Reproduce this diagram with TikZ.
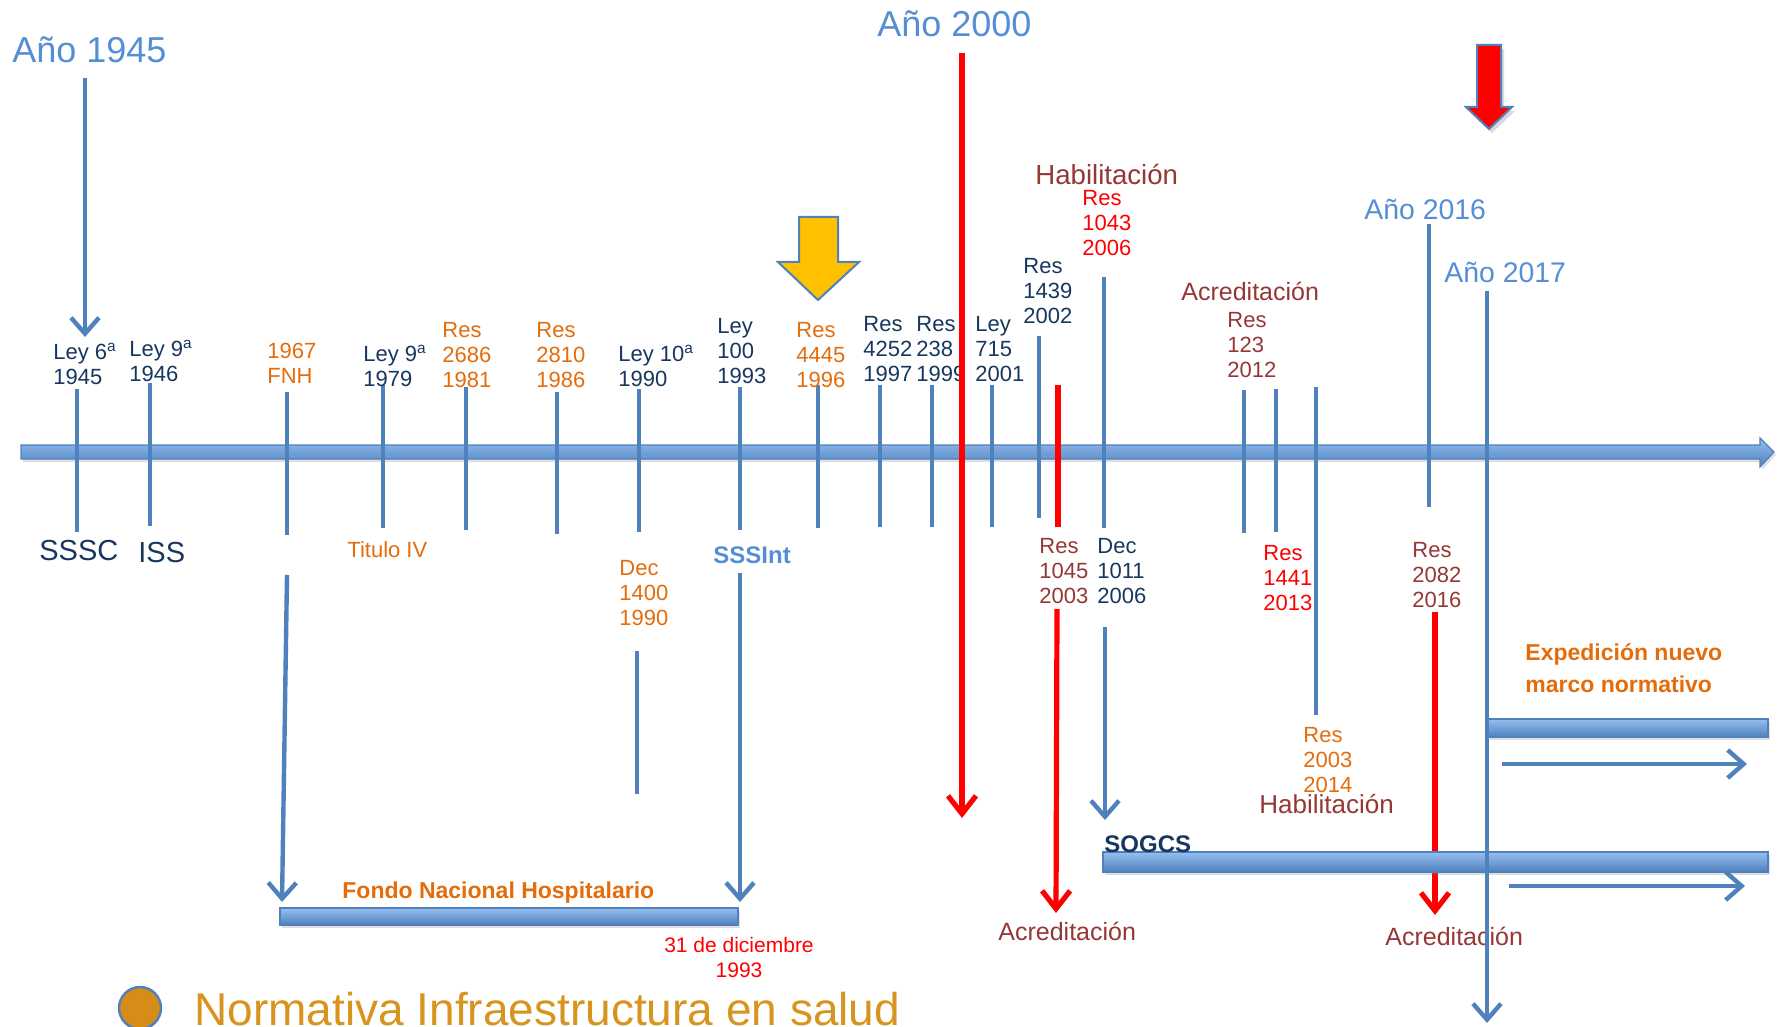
\documentclass[tikz,border=0pt]{standalone}
\usepackage{fontspec}
\setmainfont{Liberation Sans}
\usetikzlibrary{arrows.meta,shadows}
\definecolor{tick}{RGB}{79,129,189}
\definecolor{navy}{RGB}{23,55,94}
\definecolor{orng}{RGB}{228,108,10}
\definecolor{dred}{RGB}{149,55,53}
\definecolor{ltblue}{RGB}{85,142,213}
\definecolor{barlt}{RGB}{150,190,240}
\definecolor{gold}{RGB}{255,192,0}
\definecolor{salud}{RGB}{215,148,30}
\definecolor{circ}{RGB}{215,140,25}
\begin{document}
\begin{tikzpicture}[x=0.5pt,y=-0.5pt,
  tickln/.style={draw=tick,line width=2pt},
  barrow/.style={draw=tick,line width=2.2pt,-{Straight Barb[length=8pt,width=14pt]}},
  rarrow/.style={draw=red,line width=2.6pt,-{Straight Barb[length=9pt,width=14pt]}},
  lbl/.style={inner sep=0pt,align=left,anchor=north west,font=\fontsize{11}{12.5}\selectfont},
  one/.style={inner sep=0pt,anchor=base west},
  ano/.style={one,text=ltblue,font=\fontsize{18}{20}\selectfont},
  anos/.style={one,text=ltblue,font=\fontsize{14.2}{16}\selectfont},
  big/.style={one,font=\fontsize{14.5}{16}\selectfont},
  phase/.style={one,text=dred,font=\fontsize{12.5}{14}\selectfont},
  hbar/.style={draw=tick,line width=0.6pt,top color=barlt,bottom color=tick,drop shadow={opacity=0.25,shadow xshift=1pt,shadow yshift=-1.5pt}}
]
\useasboundingbox (0,0) rectangle (1777,1027);

% main axis
\path[hbar] (21,445) -- (1760,445) -- (1760,438) -- (1774,452) -- (1760,467) -- (1760,459) -- (21,459) -- cycle;

% ticks on axis
\foreach \x/\a/\b in {77/389/532,150/383/526,287/392/535,383/385/528,466/387/530,557/392/534,639/389/532,740/387/530,818/385/528,880/385/527,932/385/527,992/385/527,1039/336/518,1104/277/528,1244/390/533,1276/389/532,1316/387/715,1429/224/507}
  \draw[tickln] (\x,\a) -- (\x,\b);
\draw[draw=red,line width=2.6pt] (1058,385) -- (1058,527);
\draw[tickln] (637,651) -- (637,794);

% titles
\node[ano] (a1945) at (12,63) {Año 1945};
\node[ano] (a2000) at (877,37) {Año 2000};
\node[anos] (a2016) at (1364,220) {Año 2016};
\node[anos] (a2017) at (1444,283) {Año 2017};

% labels above axis
\node[lbl,text=navy] (l45) at (53,343) {Ley 6\textsuperscript{a}\\1945};
\node[lbl,text=navy] (l46) at (129,340) {Ley 9\textsuperscript{a}\\1946};
\node[lbl,text=orng] (l67) at (267,343) {1967\\FNH};
\node[lbl,text=navy] (l79) at (363,345) {Ley 9\textsuperscript{a}\\1979};
\node[lbl,text=orng] (l81) at (442,322) {Res\\2686\\1981};
\node[lbl,text=orng] (l86) at (536,322) {Res\\2810\\1986};
\node[lbl,text=navy] (l90) at (618,345) {Ley 10\textsuperscript{a}\\1990};
\node[lbl,text=navy] (l93) at (717,318) {Ley\\100\\1993};
\node[lbl,text=orng] (l96) at (796,322) {Res\\4445\\1996};
\node[lbl,text=navy] (l97) at (863,316) {Res\\4252\\1997};
\node[lbl,text=navy] (l99) at (916,316) {Res\\238\\1999};
\node[lbl,text=navy] (l01) at (975,316) {Ley\\715\\2001};
\node[lbl,text=navy] (l02) at (1023,258) {Res\\1439\\2002};
\node[lbl,text=red] (l06) at (1082,190) {Res\\1043\\2006};
\node[lbl,text=dred] (l12) at (1227,312) {Res\\123\\2012};
\node[phase,font=\fontsize{13.8}{15}\selectfont] (hab1) at (1035,185) {Habilitación};
\node[phase] (acr1) at (1181,300) {Acreditación};

% labels below axis
\node[big,text=navy] (sssc) at (39,560) {SSSC};
\node[big,text=navy] (iss) at (138,562) {ISS};
\node[one,text=orng,font=\fontsize{11}{12}\selectfont] (tit) at (347,557) {Titulo IV};
\node[one,text=ltblue,font=\bfseries\fontsize{12}{13}\selectfont] (sssint) at (713,563) {SSSInt};
\node[lbl,text=orng] (d90) at (619,560) {Dec\\1400\\1990};
\node[lbl,text=dred] (l03) at (1039,538) {Res\\1045\\2003};
\node[lbl,text=navy] (d06) at (1097,538) {Dec\\1011\\2006};
\node[lbl,text=red] (l13) at (1263,545) {Res\\1441\\2013};
\node[lbl,text=orng] (l14) at (1303,727) {Res\\2003\\2014};
\node[lbl,text=dred] (l16) at (1412,542) {Res\\2082\\2016};
\node[phase,font=\fontsize{13}{14}\selectfont] (hab2) at (1259,813) {Habilitación};
\node[phase] (acr2) at (998,940) {Acreditación};
\node[phase] (acr3) at (1385,945) {Acreditación};

% block arrows
\path[fill=gold,draw=tick,line width=1pt] (799,217) -- (838,217) -- (838,262) -- (859,262) -- (818,300) -- (778,262) -- (799,262) -- cycle;
\path[fill=red,draw=tick,line width=1pt,drop shadow={opacity=0.3,shadow xshift=1.5pt,shadow yshift=-2pt}] (1477,45) -- (1501,45) -- (1501,107) -- (1512,107) -- (1489,129) -- (1466,107) -- (1477,107) -- cycle;

% FNH bar
\path[hbar] (280,908) rectangle (738,925);
\node[one,text=orng,font=\bfseries\fontsize{11.5}{13}\selectfont] (fnh) at (342,898) {Fondo Nacional Hospitalario};
\node[inner sep=0pt,anchor=north,align=center,text=red,font=\fontsize{10.5}{12.5}\selectfont] (dic) at (739,937) {31 de diciembre\\1993};

% arrows
\coordinate (a45s) at (85,78); \coordinate (a45e) at (85,337);
\draw[barrow] (a45s) -- (a45e);
\coordinate (fnhs) at (287,575); \coordinate (fnhe) at (282,902);
\draw[barrow] (fnhs) -- (fnhe);
\coordinate (ints) at (740,573); \coordinate (inte) at (740,902);
\draw[barrow] (ints) -- (inte);
\coordinate (r00s) at (962,53); \coordinate (r00e) at (962,818);
\draw[rarrow] (r00s) -- (r00e);
\coordinate (r45s) at (1057,609); \coordinate (r45e) at (1056,913);
\draw[rarrow] (r45s) -- (r45e);
\coordinate (d11s) at (1105,627); \coordinate (d11e) at (1105,820);
\draw[barrow] (d11s) -- (d11e);
\coordinate (r82s) at (1435,612); \coordinate (r82e) at (1435,915);
\draw[rarrow] (r82s) -- (r82e);

% right bars
\path[hbar] (1488,719) rectangle (1768,737);
\path[hbar] (1103,852) rectangle (1768,872);
\node[one,text=navy,font=\bfseries\fontsize{12}{13}\selectfont] (sogcs) at (1104,852) {SOGCS};
\node[inner sep=0pt,anchor=north west,align=left,text=orng,font=\bfseries\fontsize{11.5}{16}\selectfont] (exp) at (1525,643) {Expedición nuevo\\marco normativo};
\coordinate (h1s) at (1502,764); \coordinate (h1e) at (1747,764);
\draw[barrow] (h1s) -- (h1e);
\coordinate (h2s) at (1509,886); \coordinate (h2e) at (1745,886);
\draw[barrow] (h2s) -- (h2e);
\coordinate (a17s) at (1487,291); \coordinate (a17e) at (1487,1023);
\draw[barrow] (a17s) -- (a17e);

% legend
\node[circle,minimum size=21pt,inner sep=0pt,fill=circ,draw=tick,line width=1.2pt] (dot) at (140,1008) {};
\node[one,text=salud,font=\fontsize{23}{26}\selectfont] (leg) at (194,1025) {Normativa Infraestructura en salud};
\end{tikzpicture}
\end{document}
